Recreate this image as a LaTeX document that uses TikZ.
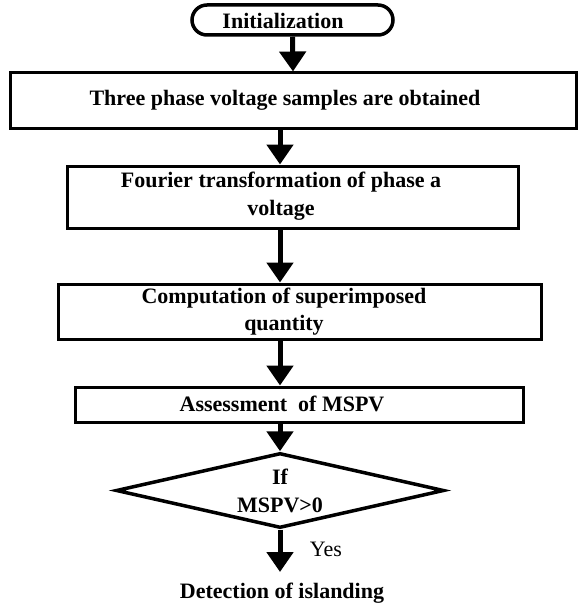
\documentclass[tikz,border=0pt]{standalone}
\usepackage{fontspec}
\setmainfont{Liberation Serif}
\usetikzlibrary{arrows.meta,shapes.geometric}
\begin{document}
\begin{tikzpicture}[x=1pt,y=-1pt,
  box/.style={draw,line width=3pt,inner sep=0pt},
  lbl/.style={font=\fontsize{22}{27.5}\selectfont\bfseries,align=center,inner sep=0pt},
  flow/.style={line width=5pt,-{Triangle[width=26pt,length=20pt]}}]
\useasboundingbox (0,0) rectangle (578,607);

% start terminator
\node[box,line width=3.5pt,rounded corners=15pt,minimum width=201pt,minimum height=30pt] (init) at (292.5,20) {};
\node[lbl] (initt) at (283,21) {Initialization};

% process steps
\node[box,minimum width=566pt,minimum height=55pt] (s1) at (293,100.5) {};
\node[lbl] (s1t) at (285,100) {Three phase voltage samples are obtained};

\node[box,minimum width=451pt,minimum height=62pt] (s2) at (292.5,197) {};
\node[lbl] (s2t) at (281,196) {Fourier transformation of phase a\\voltage};

\node[box,minimum width=483pt,minimum height=55pt] (s3) at (299.5,311.5) {};
\node[lbl] (s3t) at (284,311.5) {Computation of superimposed\\quantity};

\node[box,minimum width=448pt,minimum height=35pt] (s4) at (299,404.5) {};
\node[lbl] (s4t) at (282,404) {Assessment\ \ of MSPV};

% decision
\node[draw,diamond,line width=3.5pt,inner sep=0pt,minimum width=328pt,minimum height=75pt] (dec) at (280,490.5) {};
\node[lbl] (dect) at (280,491) {If\\MSPV>0};

% outcome
\node[font=\fontsize{22}{26}\selectfont,inner sep=0pt] (yes) at (326,549) {Yes};
\node[lbl] (det) at (282,593) {Detection of islanding};

% connectors
\coordinate (ax) at (280,0);
\coordinate (endp) at (280,572);
\draw[flow] (init.south) -- (s1.north);
\draw[flow] (s1.south -| ax) -- (s2.north -| ax);
\draw[flow] (s2.south -| ax) -- (s3.north -| ax);
\draw[flow] (s3.south -| ax) -- (s4.north -| ax);
\draw[flow] (s4.south -| ax) -- (dec.north);
\draw[flow] (dec.south) -- (endp);
\end{tikzpicture}
\end{document}
